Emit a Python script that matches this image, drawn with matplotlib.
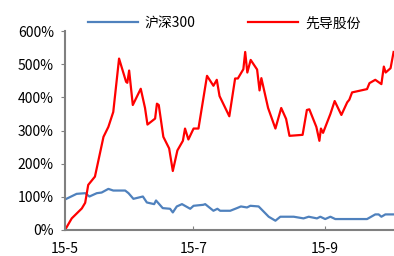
import matplotlib
matplotlib.use('Agg')
import matplotlib.pyplot as plt

plt.rcParams['font.family'] = ['Noto Sans CJK SC', 'DejaVu Sans']

# x is trading-day index counted from 2015-05-04
tick_pos = [0, 42, 85]
tick_labels = ['15-5', '15-7', '15-9']

hs300_x = [0, 3.8, 6.6, 8, 10.4, 12, 14.2, 15.8, 19.7, 20.8, 22.4, 25.5, 26.8, 29.2, 29.8,
           32, 34.4, 35.3, 36.6, 38.3, 41, 42.1, 45.3, 45.9, 48.6, 49.9, 50.8, 54.1, 56.3,
           57.6, 59.6, 60.7, 63.4, 65, 66.7, 68.9, 70.5, 74.9, 78.1, 79.8, 82.5, 83.6, 85.2,
           86.9, 88.5, 98.9, 101.6, 102.7, 103.6, 104.9, 107.6]
hs300_y = [92, 109, 111, 101, 111, 113, 124, 119, 119, 111, 94, 101, 83, 78, 89,
           66, 64, 53, 71, 78, 64, 73, 76, 78, 58, 64, 58, 58, 66,
           71, 68, 73, 71, 56, 40, 28, 40, 40, 35, 40, 35, 40, 33,
           40, 33, 33, 47, 47, 40, 47, 47]

xd_x = [0, 2.2, 5.5, 6.6, 7.6, 9.8, 12.6, 14.2, 15.8, 17.7, 20, 20.4, 21, 22.2, 24.8,
        26.2, 27, 29.5, 30.1, 30.7, 32.2, 34.1, 35.3, 36.8, 38.6, 39.3, 40.4, 42.1, 43.7,
        46.5, 48.6, 49.7, 50.6, 53.8, 55.7, 56.6, 58.4, 59, 59.7, 60.8, 62.9, 63.7, 64.3,
        66.5, 68.9, 70.8, 72.4, 73.5, 77.8, 79.2, 80, 82.3, 83.3, 83.8, 84.5, 86.9, 88.3,
        90.5, 92.4, 93.1, 94, 98.9, 99.7, 101.6, 103.6, 104.4, 105, 106.6, 107.6]
xd_y = [0, 35, 65, 82, 136, 161, 281, 311, 356, 517, 447, 444, 481, 377, 426,
        368, 318, 336, 381, 377, 281, 246, 178, 240, 269, 306, 273, 306, 306,
        465, 435, 453, 404, 343, 457, 457, 485, 537, 475, 513, 484, 421, 458,
        368, 306, 368, 335, 284, 287, 362, 364, 311, 269, 306, 293, 350, 389,
        347, 385, 393, 415, 425, 443, 453, 440, 493, 475, 488, 537]

fig = plt.figure(figsize=(3.94, 2.56), dpi=100)
ax = fig.add_axes([0.165, 0.1016, 0.834, 0.777])

ax.plot(hs300_x, hs300_y, color='#4F81BD', lw=1.6, label='沪深300')
ax.plot(xd_x, xd_y, color='#FF0000', lw=1.6, label='先导股份')

ax.set_xlim(0, 107.6)
ax.set_ylim(0, 600)
ax.set_yticks(range(0, 601, 100))
ax.set_yticklabels(['%d%%' % v for v in range(0, 601, 100)], fontsize=10)
ax.set_xticks(tick_pos)
ax.set_xticklabels(tick_labels, fontsize=10)

for s in ['top', 'right']:
    ax.spines[s].set_visible(False)
for s in ['left', 'bottom']:
    ax.spines[s].set_color('#808080')
    ax.spines[s].set_linewidth(1.5)
ax.tick_params(axis='y', direction='out', length=3, color='#808080', pad=5)
ax.tick_params(axis='x', direction='in', length=3, color='#808080', pad=9)

ax.legend(loc='lower center', bbox_to_anchor=(0.484, 0.955), ncol=2, frameon=False,
          fontsize=10, handlelength=3.6, handletextpad=0.5, columnspacing=3.8,
          borderaxespad=0.3)

fig.savefig('out.png', dpi=100)
